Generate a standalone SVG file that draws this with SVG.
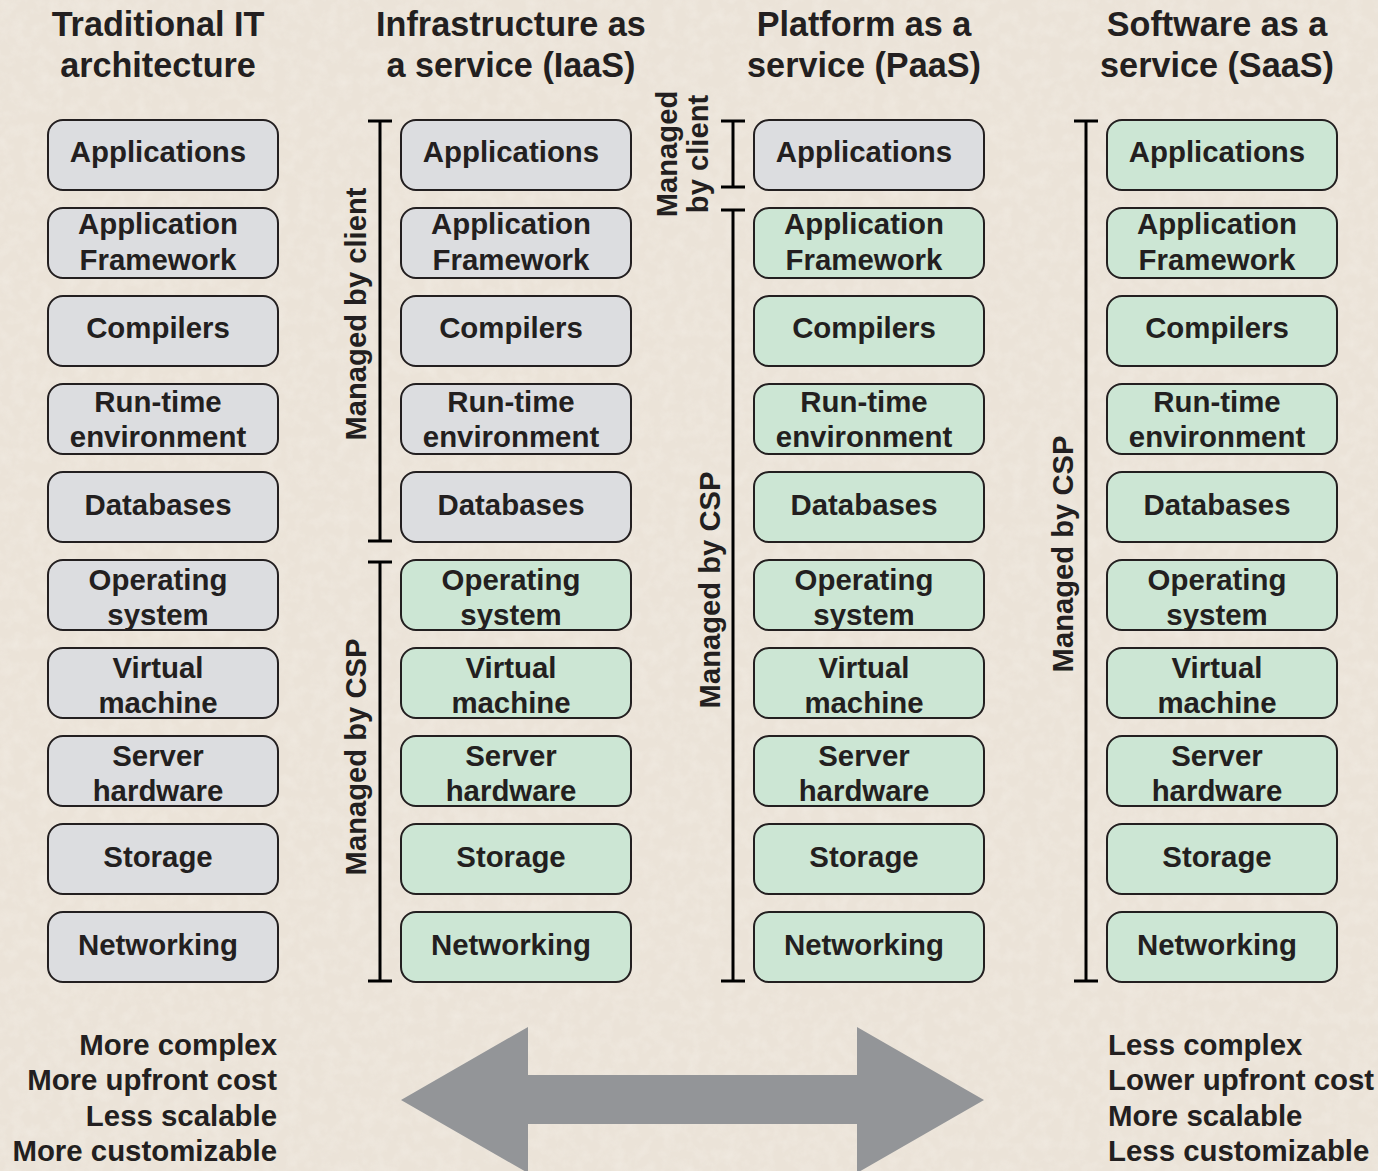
<svg xmlns="http://www.w3.org/2000/svg" width="1378" height="1171" viewBox="0 0 1378 1171">
<defs>
<style>
text{font-family:"Liberation Sans",Arial,Helvetica,sans-serif;font-weight:bold;fill:#231f20}
.t{font-size:34.2px;text-anchor:middle}
.b{font-size:29.4px;text-anchor:middle}
.v{font-size:29.2px;text-anchor:middle}
.l{font-size:29.4px}
.g{fill:#dcdde0;stroke:#231f20;stroke-width:2}
.c{fill:#cce6d4;stroke:#231f20;stroke-width:2}
.br{stroke:#000;stroke-width:3;fill:none}
</style>
<filter id="tex" x="0" y="0" width="100%" height="100%">
<feTurbulence type="fractalNoise" baseFrequency="0.08" numOctaves="3" seed="4" result="n"/>
<feColorMatrix type="matrix" values="0 0 0 0 0.93  0 0 0 0 0.9  0 0 0 0 0.85  0 0 0 -1.2 0.75" in="n"/>
</filter>
</defs>
<rect width="1378" height="1171" fill="#ebe3d8"/>
<rect width="1378" height="1171" filter="url(#tex)" opacity="0.5"/>

<g id="titles">
<text class="t" x="158" y="36">Traditional IT</text>
<text class="t" x="158" y="77">architecture</text>
<text class="t" x="511" y="36">Infrastructure as</text>
<text class="t" x="511" y="77">a service (IaaS)</text>
<text class="t" x="864" y="36">Platform as a</text>
<text class="t" x="864" y="77">service (PaaS)</text>
<text class="t" x="1217" y="36">Software as a</text>
<text class="t" x="1217" y="77">service (SaaS)</text>
</g>

<!-- Column 1 -->
<g id="c1-applications"><rect class="g" x="48" y="120" width="230" height="70" rx="15"/><text class="b" x="158" y="162">Applications</text></g>
<g id="c1-framework"><rect class="g" x="48" y="208" width="230" height="70" rx="15"/><text class="b" x="158" y="234">Application</text><text class="b" x="158" y="270">Framework</text></g>
<g id="c1-compilers"><rect class="g" x="48" y="296" width="230" height="70" rx="15"/><text class="b" x="158" y="338">Compilers</text></g>
<g id="c1-runtime"><rect class="g" x="48" y="384" width="230" height="70" rx="15"/><text class="b" x="158" y="412">Run-time</text><text class="b" x="158" y="447">environment</text></g>
<g id="c1-databases"><rect class="g" x="48" y="472" width="230" height="70" rx="15"/><text class="b" x="158" y="515">Databases</text></g>
<g id="c1-os"><rect class="g" x="48" y="560" width="230" height="70" rx="15"/><text class="b" x="158" y="590">Operating</text><text class="b" x="158" y="625">system</text></g>
<g id="c1-vm"><rect class="g" x="48" y="648" width="230" height="70" rx="15"/><text class="b" x="158" y="678">Virtual</text><text class="b" x="158" y="713">machine</text></g>
<g id="c1-server"><rect class="g" x="48" y="736" width="230" height="70" rx="15"/><text class="b" x="158" y="766">Server</text><text class="b" x="158" y="801">hardware</text></g>
<g id="c1-storage"><rect class="g" x="48" y="824" width="230" height="70" rx="15"/><text class="b" x="158" y="867">Storage</text></g>
<g id="c1-networking"><rect class="g" x="48" y="912" width="230" height="70" rx="15"/><text class="b" x="158" y="955">Networking</text></g>

<!-- Column 2 -->
<g id="c2-applications"><rect class="g" x="401" y="120" width="230" height="70" rx="15"/><text class="b" x="511" y="162">Applications</text></g>
<g id="c2-framework"><rect class="g" x="401" y="208" width="230" height="70" rx="15"/><text class="b" x="511" y="234">Application</text><text class="b" x="511" y="270">Framework</text></g>
<g id="c2-compilers"><rect class="g" x="401" y="296" width="230" height="70" rx="15"/><text class="b" x="511" y="338">Compilers</text></g>
<g id="c2-runtime"><rect class="g" x="401" y="384" width="230" height="70" rx="15"/><text class="b" x="511" y="412">Run-time</text><text class="b" x="511" y="447">environment</text></g>
<g id="c2-databases"><rect class="g" x="401" y="472" width="230" height="70" rx="15"/><text class="b" x="511" y="515">Databases</text></g>
<g id="c2-os"><rect class="c" x="401" y="560" width="230" height="70" rx="15"/><text class="b" x="511" y="590">Operating</text><text class="b" x="511" y="625">system</text></g>
<g id="c2-vm"><rect class="c" x="401" y="648" width="230" height="70" rx="15"/><text class="b" x="511" y="678">Virtual</text><text class="b" x="511" y="713">machine</text></g>
<g id="c2-server"><rect class="c" x="401" y="736" width="230" height="70" rx="15"/><text class="b" x="511" y="766">Server</text><text class="b" x="511" y="801">hardware</text></g>
<g id="c2-storage"><rect class="c" x="401" y="824" width="230" height="70" rx="15"/><text class="b" x="511" y="867">Storage</text></g>
<g id="c2-networking"><rect class="c" x="401" y="912" width="230" height="70" rx="15"/><text class="b" x="511" y="955">Networking</text></g>

<!-- Column 3 -->
<g id="c3-applications"><rect class="g" x="754" y="120" width="230" height="70" rx="15"/><text class="b" x="864" y="162">Applications</text></g>
<g id="c3-framework"><rect class="c" x="754" y="208" width="230" height="70" rx="15"/><text class="b" x="864" y="234">Application</text><text class="b" x="864" y="270">Framework</text></g>
<g id="c3-compilers"><rect class="c" x="754" y="296" width="230" height="70" rx="15"/><text class="b" x="864" y="338">Compilers</text></g>
<g id="c3-runtime"><rect class="c" x="754" y="384" width="230" height="70" rx="15"/><text class="b" x="864" y="412">Run-time</text><text class="b" x="864" y="447">environment</text></g>
<g id="c3-databases"><rect class="c" x="754" y="472" width="230" height="70" rx="15"/><text class="b" x="864" y="515">Databases</text></g>
<g id="c3-os"><rect class="c" x="754" y="560" width="230" height="70" rx="15"/><text class="b" x="864" y="590">Operating</text><text class="b" x="864" y="625">system</text></g>
<g id="c3-vm"><rect class="c" x="754" y="648" width="230" height="70" rx="15"/><text class="b" x="864" y="678">Virtual</text><text class="b" x="864" y="713">machine</text></g>
<g id="c3-server"><rect class="c" x="754" y="736" width="230" height="70" rx="15"/><text class="b" x="864" y="766">Server</text><text class="b" x="864" y="801">hardware</text></g>
<g id="c3-storage"><rect class="c" x="754" y="824" width="230" height="70" rx="15"/><text class="b" x="864" y="867">Storage</text></g>
<g id="c3-networking"><rect class="c" x="754" y="912" width="230" height="70" rx="15"/><text class="b" x="864" y="955">Networking</text></g>

<!-- Column 4 -->
<g id="c4-applications"><rect class="c" x="1107" y="120" width="230" height="70" rx="15"/><text class="b" x="1217" y="162">Applications</text></g>
<g id="c4-framework"><rect class="c" x="1107" y="208" width="230" height="70" rx="15"/><text class="b" x="1217" y="234">Application</text><text class="b" x="1217" y="270">Framework</text></g>
<g id="c4-compilers"><rect class="c" x="1107" y="296" width="230" height="70" rx="15"/><text class="b" x="1217" y="338">Compilers</text></g>
<g id="c4-runtime"><rect class="c" x="1107" y="384" width="230" height="70" rx="15"/><text class="b" x="1217" y="412">Run-time</text><text class="b" x="1217" y="447">environment</text></g>
<g id="c4-databases"><rect class="c" x="1107" y="472" width="230" height="70" rx="15"/><text class="b" x="1217" y="515">Databases</text></g>
<g id="c4-os"><rect class="c" x="1107" y="560" width="230" height="70" rx="15"/><text class="b" x="1217" y="590">Operating</text><text class="b" x="1217" y="625">system</text></g>
<g id="c4-vm"><rect class="c" x="1107" y="648" width="230" height="70" rx="15"/><text class="b" x="1217" y="678">Virtual</text><text class="b" x="1217" y="713">machine</text></g>
<g id="c4-server"><rect class="c" x="1107" y="736" width="230" height="70" rx="15"/><text class="b" x="1217" y="766">Server</text><text class="b" x="1217" y="801">hardware</text></g>
<g id="c4-storage"><rect class="c" x="1107" y="824" width="230" height="70" rx="15"/><text class="b" x="1217" y="867">Storage</text></g>
<g id="c4-networking"><rect class="c" x="1107" y="912" width="230" height="70" rx="15"/><text class="b" x="1217" y="955">Networking</text></g>

<g id="connectors">
<path class="br" d="M380 121V541M368 121H392M368 541H392"/>
<path class="br" d="M380 562V981M368 562H392M368 981H392"/>
<path class="br" d="M733 121V187M721 121H745M721 187H745"/>
<path class="br" d="M733 210V981M721 210H745M721 981H745"/>
<path class="br" d="M1086 121V981M1074 121H1098M1074 981H1098"/>
<polygon points="401,1100 528,1027 528,1075 857,1075 857,1027 984,1100 857,1173 857,1124 528,1124 528,1173" fill="#939598"/>
</g>

<g id="bracket-labels">
<text class="v" transform="translate(366,314) rotate(-90)">Managed by client</text>
<text class="v" transform="translate(366,757) rotate(-90)">Managed by CSP</text>
<text class="v" transform="translate(677,154) rotate(-90)">Managed</text>
<text class="v" transform="translate(708,154) rotate(-90)">by client</text>
<text class="v" transform="translate(720,590) rotate(-90)">Managed by CSP</text>
<text class="v" transform="translate(1073,554) rotate(-90)">Managed by CSP</text>
</g>

<g id="bottom-left">
<text class="l" x="277" y="1055" text-anchor="end">More complex</text>
<text class="l" x="277" y="1090" text-anchor="end">More upfront cost</text>
<text class="l" x="277" y="1126" text-anchor="end">Less scalable</text>
<text class="l" x="277" y="1161" text-anchor="end">More customizable</text>
</g>
<g id="bottom-right">
<text class="l" x="1108" y="1055">Less complex</text>
<text class="l" x="1108" y="1090">Lower upfront cost</text>
<text class="l" x="1108" y="1126">More scalable</text>
<text class="l" x="1108" y="1161">Less customizable</text>
</g>
</svg>
